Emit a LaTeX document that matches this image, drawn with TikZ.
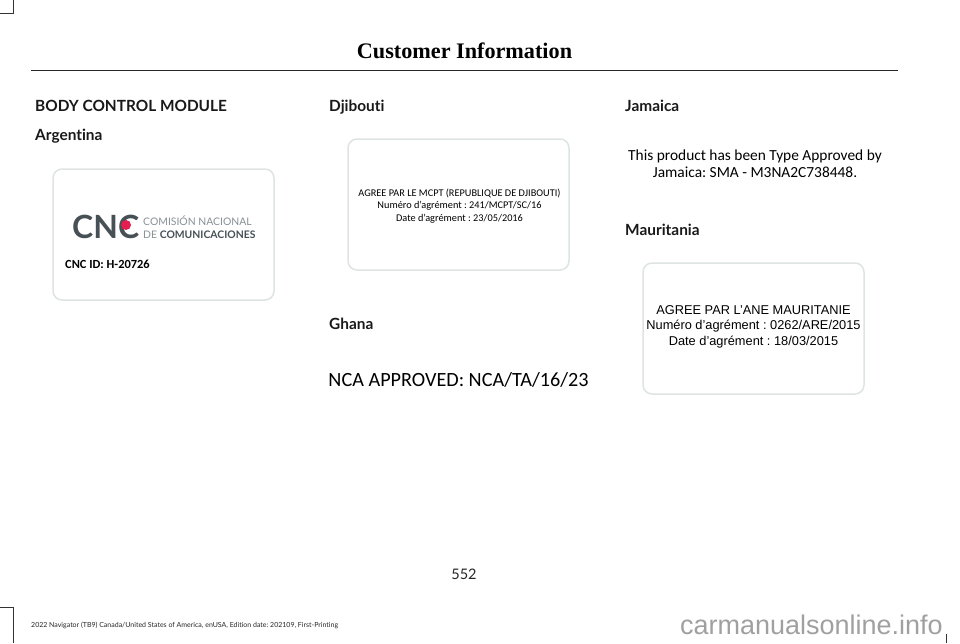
\documentclass[tikz,border=0pt]{standalone}
\usepackage{fontspec}
\setmainfont[Ligatures=NoCommon]{Lato}
\newfontfamily\titlefont{Liberation Serif}
\newfontfamily\carlitofont[Ligatures=NoCommon]{Carlito}
\newfontfamily\arialfont{Liberation Sans}
\usetikzlibrary{calc}
\frenchspacing
\definecolor{cardline}{RGB}{222,228,226}
\definecolor{logogray}{RGB}{70,80,85}
\definecolor{logolight}{RGB}{135,145,150}
\definecolor{logored}{RGB}{230,30,80}
\definecolor{markgray}{RGB}{160,160,160}
\tikzset{
    heading/.style={anchor=base west,inner sep=0pt,font=\fontsize{15.4}{17}\selectfont\bfseries,text=black!90},
    card/.style={draw=cardline,line width=1.5pt,rounded corners=9pt,fill=white},
    cropline/.style={black!80,line width=0.8pt},
}
\begin{document}
\begin{tikzpicture}[x=1pt,y=-1pt]
\useasboundingbox (0,0) rectangle (960,643);
\coordinate (ruleL) at (31,70);
\coordinate (ruleR) at (898,70);
\coordinate (cardA) at (53,169);
\coordinate (cardAend) at (274,300);
\coordinate (cardD) at (348,139);
\coordinate (cardDend) at (569,270);
\coordinate (cardM) at (643,263);
\coordinate (cardMend) at (864,394);

% corner marks
\draw[cropline] (0,13)--(13,13)--(13,0);
\draw[cropline] (0,607)--(13,607)--(13,643);
\draw[cropline] (946,643)--(946,634);

\node[font=\titlefont\fontsize{22.2}{26}\selectfont\bfseries,anchor=base] (title) at (464.5,58) {Customer Information};
\draw[black!85,line width=1pt] (ruleL)--(ruleR);

% headings
\node[heading] (body) at (35,111) {BODY CONTROL MODULE};
\node[heading] (argentina) at (35,140) {Argentina};
\node[heading] (djibouti) at (329,111) {Djibouti};
\node[heading] (ghana) at (329,329) {Ghana};
\node[heading] (jamaica) at (625,111) {Jamaica};
\node[heading] (mauritania) at (625,235) {Mauritania};

% cards
\draw[card] (cardA) rectangle (cardAend);
\draw[card] (cardD) rectangle (cardDend);
\draw[card] (cardM) rectangle (cardMend);

% argentina logo
\node[anchor=base west,font=\fontsize{32}{32}\selectfont\bfseries,text=logogray,inner sep=0pt] (cnc) at (72,238.5) {CNC};
\fill[logored] (126,225) circle[radius=5];
\node[anchor=base west,font=\fontsize{10.4}{12}\selectfont,text=logolight,inner sep=0pt] (comision) at (143,225.5) {COMISIÓN NACIONAL};
\node[anchor=base west,font=\fontsize{10.4}{12}\selectfont,text=logolight,inner sep=0pt] (de) at (143,238) {DE \textcolor{logogray}{\textbf{COMUNICACIONES}}};
\node[anchor=base west,font=\carlitofont\fontsize{12.4}{14}\selectfont\bfseries,inner sep=0pt] (cncid) at (65,268) {CNC ID: H-20726};

% djibouti
\node[font=\carlitofont\fontsize{10.3}{12.5}\selectfont,align=center,anchor=base,inner sep=0pt] (mcpt) at (459.5,221)
    {AGREE PAR LE MCPT (REPUBLIQUE DE DJIBOUTI)\\Numéro d’agrément : 241/MCPT/SC/16\\Date d’agrément : 23/05/2016};

% ghana
\node[font=\carlitofont\fontsize{20.2}{24}\selectfont,anchor=base,inner sep=0pt] (nca) at (458.5,386) {NCA APPROVED: NCA/TA/16/23};

% jamaica
\node[font=\carlitofont\fontsize{15.4}{17}\selectfont,align=center,anchor=base,inner sep=0pt] (sma) at (755,177)
    {This product has been Type Approved by\\Jamaica: SMA - M3NA2C738448.};

% mauritania
\node[font=\arialfont\fontsize{12.8}{15.5}\selectfont,align=center,anchor=base,inner sep=0pt] (ane) at (753.5,345)
    {AGREE PAR L’ANE MAURITANIE\\Numéro d’agrément : 0262/ARE/2015\\Date d’agrément : 18/03/2015};

% footer
\node[font=\fontsize{14.5}{16}\selectfont,anchor=base,text=black!85] (page) at (464,579) {552};
\node[font=\fontsize{7}{8}\selectfont,anchor=base west,inner sep=0pt,text=black!85] (edition) at (31,627) {2022 Navigator (TB9) Canada/United States of America, enUSA, Edition date: 202109, First-Printing};
\node[font=\arialfont\fontsize{27}{30}\selectfont,anchor=base east,inner sep=0pt,text=markgray] (mark) at (943,634) {carmanualsonline.info};
\end{tikzpicture}
\end{document}
